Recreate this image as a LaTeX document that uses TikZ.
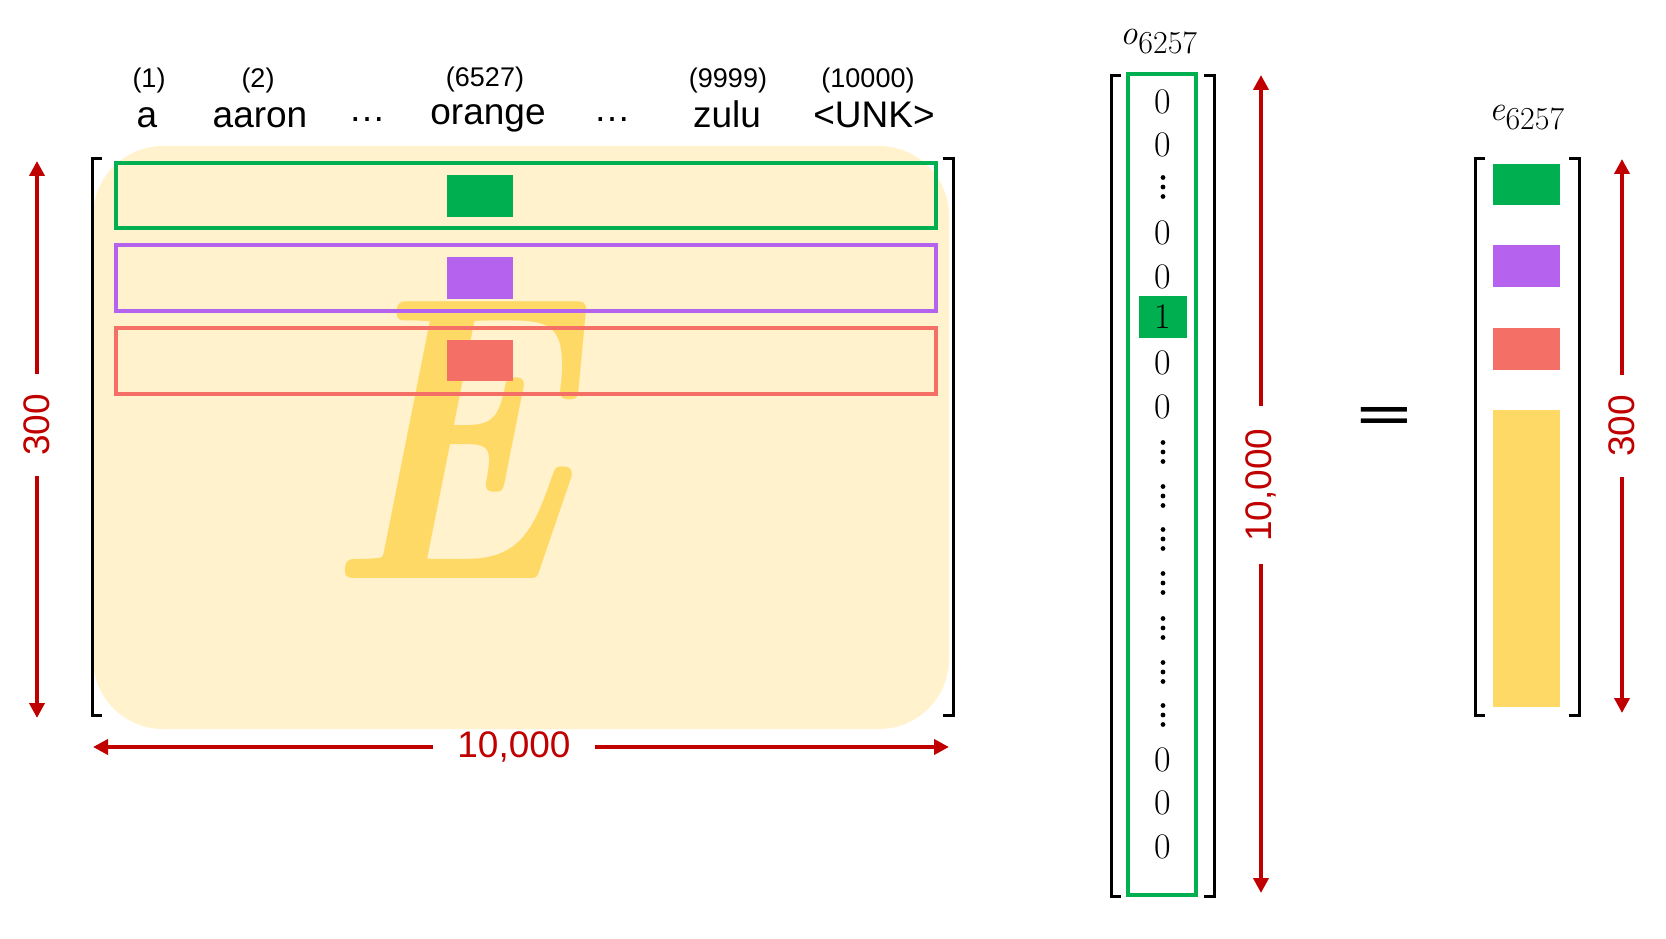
\documentclass[tikz,border=0pt]{standalone}
\usepackage[no-math]{fontspec}
\setmainfont{Liberation Sans}
\newfontfamily\lmr{Latin Modern Roman}
\usepackage{graphicx}
\usetikzlibrary{arrows.meta}
\definecolor{dred}{HTML}{C00000}
\definecolor{mgreen}{HTML}{00B050}
\definecolor{mpurple}{HTML}{B563EE}
\definecolor{mred}{HTML}{F46F66}
\definecolor{myellow}{HTML}{FFD966}
\definecolor{mbg}{HTML}{FFF2CC}
\begin{document}
\begin{tikzpicture}[x=1pt,y=-1pt]
\useasboundingbox (0,0) rectangle (1666,939);
\tikzset{
  dimarrow/.style={draw=dred, line width=4pt, -{Triangle[width=15pt,length=15pt]}},
  dimlabel/.style={text=dred, font=\fontsize{37}{44}\selectfont, inner ysep=0pt, inner xsep=20pt},
  brack/.style={line width=3pt, draw=black},
  idx/.style={font=\fontsize{27}{32}\selectfont, anchor=base, inner sep=0pt},
  word/.style={font=\fontsize{37}{44}\selectfont, anchor=base, inner sep=0pt},
  vent/.style={font=\lmr\fontsize{36}{40}\selectfont, inner sep=0pt},
  rowbox/.style={line width=4pt},
  vlabel/.style={inner sep=0pt},
}
% ---------- matrix E ----------
\fill[mbg, rounded corners=70pt] (93,146) rectangle (949,729);
\node[text=myellow, inner sep=0pt] (Ebig) at (448,440)
  {\scalebox{0.8}[1]{\lmr\bfseries\itshape\fontsize{407}{480}\selectfont E}};
\draw[rowbox, mgreen]  (116,163) rectangle (936,228);
\draw[rowbox, mpurple] (116,245) rectangle (936,311);
\draw[rowbox, mred]    (116,328) rectangle (936,394);
\fill[mgreen]  (447,175) rectangle (513,217);
\fill[mpurple] (447,257) rectangle (513,299);
\fill[mred]    (447,340) rectangle (513,381);
\draw[brack] (102,159) -- (92,159) -- (92,715) -- (102,715);
\draw[brack] (943,159) -- (953,159) -- (953,715) -- (943,715);
% column labels
\node[idx] (i1) at (149,88) {(1)};
\node[word] (w1) at (147,128) {a};
\node[idx] (i2) at (258,88) {(2)};
\node[word] (w2) at (260,128) {aaron};
\node[word] (d1) at (367,122) {…};
\node[idx] (i3) at (485,87) {(6527)};
\node[word] (w3) at (488,125) {orange};
\node[word] (d2) at (612,122) {…};
\node[idx] (i4) at (728,88) {(9999)};
\node[word] (w4) at (727,128) {zulu};
\node[idx] (i5) at (868,88) {(10000)};
\node[word] (w5) at (874,128) {<UNK>};
% left 300 arrow
\coordinate (lt) at (37,161);
\coordinate (lb) at (37,718);
\node[dimlabel, rotate=90] (l300) at (37,425) {300};
\draw[dimarrow] (l300) -- (lt);
\draw[dimarrow] (l300) -- (lb);
% bottom 10,000 arrow
\coordinate (bl) at (93,747);
\coordinate (br) at (949,747);
\node[dimlabel, inner xsep=24pt] (b10k) at (514,747) {10,000};
\draw[dimarrow] (b10k) -- (bl);
\draw[dimarrow] (b10k) -- (br);
% ---------- one-hot vector ----------
\node[vlabel] (olab) at (1159,42)
  {{\lmr\itshape\fontsize{35}{40}\selectfont o}\raisebox{-9pt}{\lmr\fontsize{32}{36}\selectfont 6257}};
\fill[mgreen] (1139,296) rectangle (1187,338);
\draw[rowbox, mgreen] (1128,74) rectangle (1196,895);
\draw[brack] (1121,76) -- (1111,76) -- (1111,896) -- (1121,896);
\draw[brack] (1204,76) -- (1214,76) -- (1214,896) -- (1204,896);
\foreach \yy/\nm in {102/a1,145/a2,233/a4,277/a5,363/a7,407/a8,760/a16,803/a17,847/a18}
  \node[vent] (\nm) at (1163,\yy) {0};
\node[vent] (one) at (1163,317) {1};
\foreach \yy in {187,452,496,539,583,628,672,715}
  \foreach \k in {-9.5,0,9.5}
    \fill (1163,\yy+\k) circle (2.4pt);
% 10,000 vertical arrow
\coordinate (mt) at (1261,75);
\coordinate (mb) at (1261,893);
\node[dimlabel, rotate=90, inner xsep=22pt] (m10k) at (1261,485) {10,000};
\draw[dimarrow] (m10k) -- (mt);
\draw[dimarrow] (m10k) -- (mb);
% equals
\node[inner sep=0pt, font=\bfseries\fontsize{92}{100}\selectfont] (eq) at (1384,418) {\scalebox{1}[0.46]{=}};
% ---------- embedding vector ----------
\node[vlabel] (elab) at (1527,118)
  {{\lmr\itshape\fontsize{35}{40}\selectfont e}\raisebox{-9pt}{\lmr\fontsize{32}{36}\selectfont 6257}};
\fill[mgreen]  (1493,164) rectangle (1560,205);
\fill[mpurple] (1493,245) rectangle (1560,287);
\fill[mred]    (1493,328) rectangle (1560,370);
\fill[myellow] (1493,410) rectangle (1560,707);
\draw[brack] (1485,159) -- (1475,159) -- (1475,715) -- (1485,715);
\draw[brack] (1569,159) -- (1579,159) -- (1579,715) -- (1569,715);
\coordinate (rt) at (1622,159);
\coordinate (rb) at (1622,713);
\node[dimlabel, rotate=90] (r300) at (1622,426) {300};
\draw[dimarrow] (r300) -- (rt);
\draw[dimarrow] (r300) -- (rb);
\end{tikzpicture}
\end{document}
